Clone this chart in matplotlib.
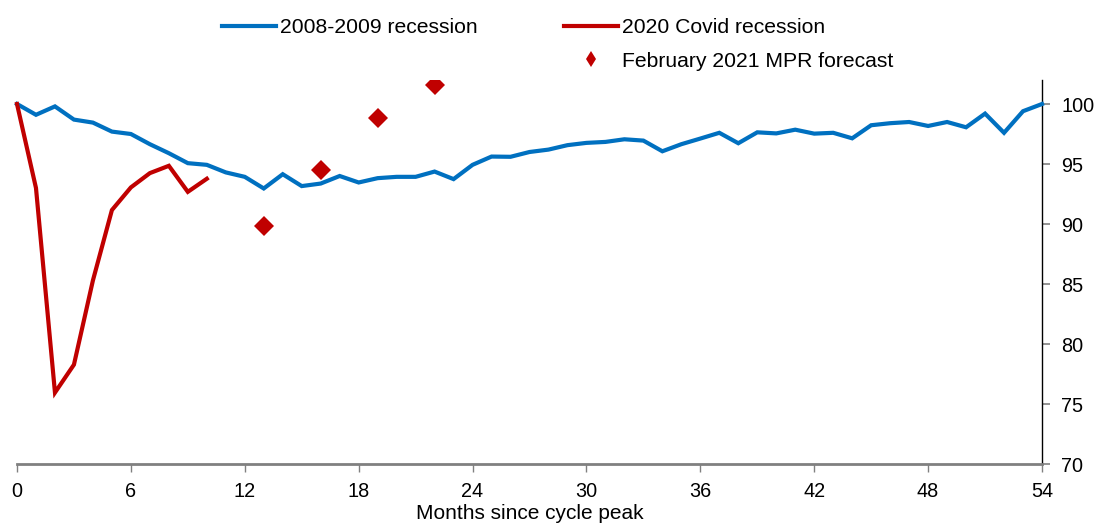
import matplotlib
matplotlib.use("Agg")
import matplotlib.pyplot as plt
from matplotlib.lines import Line2D

plt.rcParams['font.family'] = ['Liberation Sans', 'DejaVu Sans']

months_gfc = list(range(0, 55))
gfc = [100.0, 99.1, 99.8, 98.7, 98.45, 97.7, 97.5, 96.65, 95.9, 95.07,
       94.93, 94.3, 93.93, 92.96, 94.15, 93.16, 93.37, 94.0, 93.46, 93.82,
       93.93, 93.93, 94.37, 93.74, 94.93, 95.62, 95.6, 96.0, 96.2, 96.57,
       96.76, 96.84, 97.06, 96.95, 96.06, 96.65, 97.12, 97.6, 96.73, 97.64,
       97.55, 97.86, 97.53, 97.6, 97.14, 98.23, 98.4, 98.5, 98.17, 98.5,
       98.06, 99.2, 97.6, 99.4, 100.0]

months_covid = list(range(0, 11))
covid = [100.0, 93.0, 75.95, 78.28, 85.3, 91.16, 93.05, 94.24, 94.85, 92.68, 93.77]

months_mpr = [13, 16, 19, 22]
mpr = [89.8, 94.5, 98.86, 101.55]

x_ticks = list(range(0, 55, 6))
y_ticks = list(range(70, 101, 5))

BLUE = '#0070C0'
RED = '#C00000'
GRAY = '#808080'

fig = plt.figure(figsize=(10.96, 5.24), dpi=100)
ax = fig.add_axes([17/1096, 60/524, 1025/1096, 384/524])

ax.plot(months_gfc, gfc, color=BLUE, lw=3.0, solid_joinstyle='miter', clip_on=False, zorder=3)
ax.plot(months_covid, covid, color=RED, lw=3.0, solid_joinstyle='miter', clip_on=False, zorder=3)
ax.plot(months_mpr, mpr, linestyle='none', marker='D', markersize=10,
        color=RED, markeredgewidth=0, zorder=4)

ax.set_xlim(0, 54)
ax.set_ylim(70, 102)
ax.set_xticks(x_ticks)
ax.set_yticks(y_ticks)

ax.yaxis.tick_right()
ax.yaxis.set_label_position('right')
for s in ['left', 'top']:
    ax.spines[s].set_visible(False)
ax.spines['right'].set_color('black')
ax.spines['right'].set_linewidth(1.0)
ax.spines['bottom'].set_color(GRAY)
ax.spines['bottom'].set_linewidth(2.0)

ax.tick_params(axis='x', direction='out', length=6, width=1, color=GRAY,
               labelsize=14.3, pad=7)
ax.tick_params(axis='y', direction='out', length=6, width=1.2, color=GRAY,
               labelsize=14.3, pad=8)
ax.set_xlabel('Months since cycle peak', fontsize=15, labelpad=2)

h_blue = Line2D([], [], color=BLUE, lw=3.0)
h_red = Line2D([], [], color=RED, lw=3.0)
h_blank = Line2D([], [], color='none')
h_mpr = Line2D([], [], linestyle='none', marker='d', markersize=8, color=RED,
               markeredgewidth=0)
fig.legend([h_blue, h_blank, h_red, h_mpr],
           ['2008-2009 recession', '', '2020 Covid recession', 'February 2021 MPR forecast'],
           ncol=2, loc='upper left', bbox_to_anchor=(222/1096, 1 - 18/524),
           frameon=False, fontsize=15.2,
           handlelength=2.55, handletextpad=0.2,
           columnspacing=4.1, labelspacing=0.7, borderaxespad=0, borderpad=0)

fig.savefig('out.png', dpi=100)
